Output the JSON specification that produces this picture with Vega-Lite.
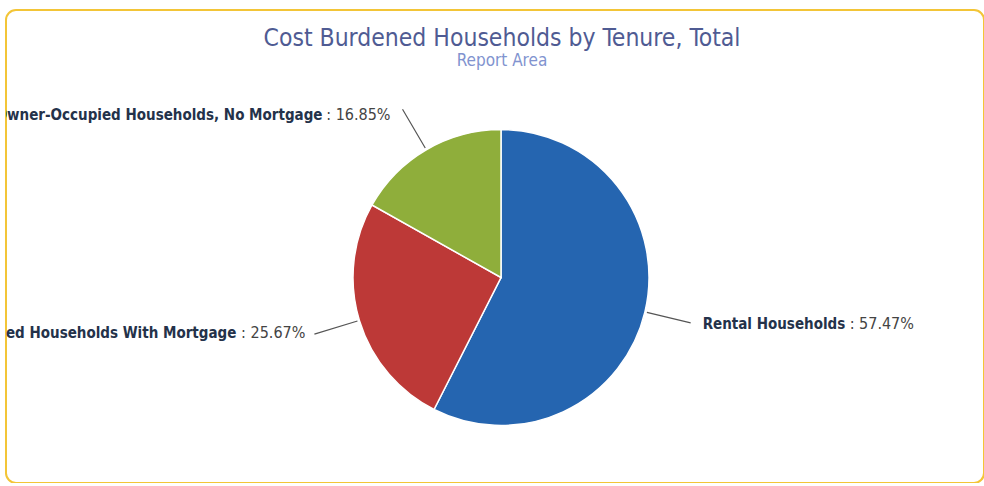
{
  "$schema": "https://vega.github.io/schema/vega-lite/v6.json",
  "autosize": {"type": "none"},
  "padding": {"left": 6, "top": 10, "right": 0, "bottom": 0},
  "width": 978,
  "height": 473,
  "background": "white",
  "view": {"stroke": "#f3c537", "strokeWidth": 2, "cornerRadius": 10, "fill": "white"},
  "config": {
    "view": {"stroke": "#f3c537", "strokeWidth": 2, "cornerRadius": 10, "fill": "white"},
    "style": {
      "cell": {"stroke": "#f3c537", "strokeWidth": 2, "cornerRadius": 10, "fill": "white"},
      "view": {"stroke": "#f3c537", "strokeWidth": 2, "cornerRadius": 10, "fill": "white"}
    }
  },
  "title": {
    "text": "Cost Burdened Households by Tenure, Total",
    "subtitle": "Report Area",
    "anchor": "middle",
    "offset": -60,
    "dx": 7,
    "font": "Liberation Sans Narrow, DejaVu Sans Condensed, Open Sans",
    "fontSize": 24.5,
    "fontWeight": "normal",
    "color": "#4f5b93",
    "subtitleFont": "Liberation Sans Narrow, DejaVu Sans Condensed, Open Sans",
    "subtitleFontSize": 17,
    "subtitleColor": "#8193cf",
    "subtitlePadding": 2
  },
  "data": {
    "values": [
      {"category": "Rental Households", "percent": 57.47},
      {"category": "Owner-Occupied Households With Mortgage", "percent": 25.67},
      {"category": "Owner-Occupied Households, No Mortgage", "percent": 16.85}
    ]
  },
  "transform": [
    {"window": [{"op": "sum", "field": "percent", "as": "cum"}], "frame": [null, 0]},
    {"calculate": "datum.cum - datum.percent", "as": "start"},
    {"calculate": "datum.cum - datum.percent / 2", "as": "mid"},
    {"calculate": "': ' + format(datum.percent, '.2f') + '%'", "as": "valueLabel"}
  ],
  "layer": [
    {
      "mark": {"type": "arc", "outerRadius": 148, "stroke": "white", "strokeWidth": 1.5, "xOffset": 6, "yOffset": 31},
      "encoding": {
        "theta": {"field": "start", "type": "quantitative", "stack": null, "scale": {"domain": [0, 99.99]}},
        "theta2": {"field": "cum"},
        "color": {
          "field": "category", "type": "nominal", "legend": null,
          "scale": {
            "domain": ["Rental Households", "Owner-Occupied Households With Mortgage", "Owner-Occupied Households, No Mortgage"],
            "range": ["#2565b0", "#bd3937", "#8fae3b"]
          }
        }
      }
    },
    {
      "mark": {"type": "arc", "stroke": "#555555", "strokeWidth": 1.2, "fillOpacity": 0, "xOffset": 6, "yOffset": 31},
      "encoding": {
        "theta": {"field": "mid", "type": "quantitative", "stack": null},
        "theta2": {"field": "mid"},
        "radius": {"value": 195},
        "radius2": {"value": 150}
      }
    },
    {
      "transform": [{"filter": "datum.category === 'Rental Households'"}],
      "mark": {"type": "text", "align": "left", "baseline": "middle", "font": "DejaVu Sans Condensed, DejaVu Sans", "fontWeight": "bold", "fontSize": 15, "color": "#24324a", "xOffset": 6, "yOffset": 31, "dx": 12, "dy": 1, "clip": true},
      "encoding": {
        "theta": {"field": "mid", "type": "quantitative", "stack": null},
        "radius": {"value": 195},
        "text": {"field": "category"}
      }
    },
    {
      "transform": [{"filter": "datum.category === 'Rental Households'"}],
      "mark": {"type": "text", "align": "left", "baseline": "middle", "font": "DejaVu Sans Condensed, DejaVu Sans", "fontSize": 16, "color": "#444444", "xOffset": 6, "yOffset": 31, "dx": 159, "dy": 1, "clip": true},
      "encoding": {
        "theta": {"field": "mid", "type": "quantitative", "stack": null},
        "radius": {"value": 195},
        "text": {"field": "valueLabel"}
      }
    },
    {
      "transform": [{"filter": "datum.category === 'Owner-Occupied Households With Mortgage'"}],
      "mark": {"type": "text", "align": "right", "baseline": "middle", "font": "DejaVu Sans Condensed, DejaVu Sans", "fontWeight": "bold", "fontSize": 15, "color": "#24324a", "xOffset": 6, "yOffset": 31, "dx": -78, "dy": -1, "clip": true},
      "encoding": {
        "theta": {"field": "mid", "type": "quantitative", "stack": null},
        "radius": {"value": 195},
        "text": {"field": "category"}
      }
    },
    {
      "transform": [{"filter": "datum.category === 'Owner-Occupied Households With Mortgage'"}],
      "mark": {"type": "text", "align": "right", "baseline": "middle", "font": "DejaVu Sans Condensed, DejaVu Sans", "fontSize": 16, "color": "#444444", "xOffset": 6, "yOffset": 31, "dx": -9, "dy": -1, "clip": true},
      "encoding": {
        "theta": {"field": "mid", "type": "quantitative", "stack": null},
        "radius": {"value": 195},
        "text": {"field": "valueLabel"}
      }
    },
    {
      "transform": [{"filter": "datum.category === 'Owner-Occupied Households, No Mortgage'"}],
      "mark": {"type": "text", "align": "right", "baseline": "middle", "font": "DejaVu Sans Condensed, DejaVu Sans", "fontWeight": "bold", "fontSize": 15, "color": "#24324a", "xOffset": 6, "yOffset": 31, "dx": -80, "dy": 6, "clip": true},
      "encoding": {
        "theta": {"field": "mid", "type": "quantitative", "stack": null},
        "radius": {"value": 195},
        "text": {"field": "category"}
      }
    },
    {
      "transform": [{"filter": "datum.category === 'Owner-Occupied Households, No Mortgage'"}],
      "mark": {"type": "text", "align": "right", "baseline": "middle", "font": "DejaVu Sans Condensed, DejaVu Sans", "fontSize": 16, "color": "#444444", "xOffset": 6, "yOffset": 31, "dx": -12, "dy": 6, "clip": true},
      "encoding": {
        "theta": {"field": "mid", "type": "quantitative", "stack": null},
        "radius": {"value": 195},
        "text": {"field": "valueLabel"}
      }
    }
  ]
}
